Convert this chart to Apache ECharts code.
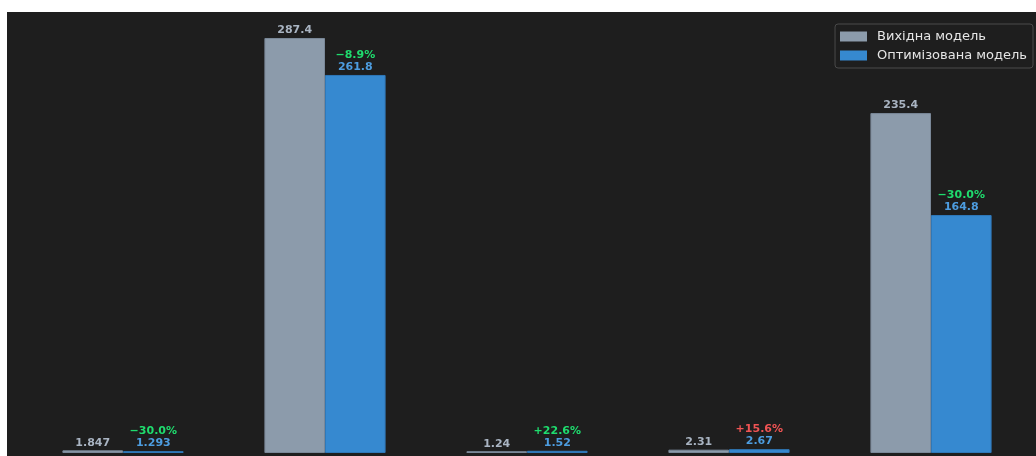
<!DOCTYPE html>
<html>
<head>
<meta charset="utf-8">
<style>
html,body{margin:0;padding:0;background:#ffffff;}
#c{position:absolute;left:7px;top:12px;width:1029px;height:444px;}
</style>
<script src="https://cdn.jsdelivr.net/npm/echarts@6/dist/echarts.min.js"></script>
</head>
<body>
<div id="c"></div>
<script>
var categories = ['A', 'B', 'C', 'D', 'E'];
var seriesNames = ['Вихідна модель', 'Оптимізована модель'];
var baseline = [1.847, 287.4, 1.24, 2.31, 235.4];
var optimized = [1.293, 261.8, 1.52, 2.67, 164.8];
var valueLabels0 = ['1.847', '287.4', '1.24', '2.31', '235.4'];
var valueLabels1 = ['1.293', '261.8', '1.52', '2.67', '164.8'];
var improved = [true, true, true, false, true];

function pct(i) {
  var p = (optimized[i] - baseline[i]) / baseline[i] * 100;
  var s = Math.abs(p).toFixed(1) + '%';
  return (p < 0 ? '\u2212' : '+') + s;
}

var FONT = 'DejaVu Sans';
var chart = echarts.init(document.getElementById('c'), null, {renderer: 'canvas'});
chart.setOption({
  backgroundColor: '#1e1e1e',
  animation: false,
  grid: {left: 15, right: 4, top: 0, bottom: 3},
  legend: {
    orient: 'vertical',
    right: 3,
    top: 12,
    padding: [6, 6, 6, 5],
    itemWidth: 27,
    itemHeight: 10,
    itemGap: 6,
    icon: 'rect',
    borderColor: '#4a4a4a',
    borderWidth: 1,
    borderRadius: 3,
    backgroundColor: '#1e1e1e',
    itemStyle: {borderWidth: 0},
    textStyle: {color: '#e6e6e6', fontSize: 13, fontFamily: FONT, padding: [0, 0, 0, 5]},
    data: seriesNames
  },
  xAxis: {
    type: 'category',
    data: categories,
    show: false
  },
  yAxis: {
    type: 'value',
    min: 0,
    max: 305.4,
    show: false,
    splitLine: {show: false}
  },
  series: [
    {
      name: seriesNames[0],
      type: 'bar',
      data: baseline,
      barGap: '0%',
      barCategoryGap: '40%',
      itemStyle: {color: '#8c9bab', borderColor: '#7a8898', borderWidth: 1},
      label: {
        show: true,
        position: 'top',
        distance: 2,
        fontFamily: FONT,
        fontWeight: 'bold',
        fontSize: 11,
        color: '#a9b4c2',
        formatter: function (p) { return valueLabels0[p.dataIndex]; }
      }
    },
    {
      name: seriesNames[1],
      type: 'bar',
      data: optimized,
      itemStyle: {color: '#3689d0', borderColor: '#2f78b8', borderWidth: 1},
      label: {
        show: true,
        position: 'top',
        distance: 2,
        fontFamily: FONT,
        fontWeight: 'bold',
        fontSize: 11,
        lineHeight: 12,
        formatter: function (p) {
          var i = p.dataIndex;
          return '{' + (improved[i] ? 'g' : 'r') + '|' + pct(i) + '}\n{v|' + valueLabels1[i] + '}';
        },
        rich: {
          g: {color: '#1fdc6e', fontFamily: FONT, fontWeight: 'bold', fontSize: 11, lineHeight: 12},
          r: {color: '#f05454', fontFamily: FONT, fontWeight: 'bold', fontSize: 11, lineHeight: 12},
          v: {color: '#4d9de0', fontFamily: FONT, fontWeight: 'bold', fontSize: 11, lineHeight: 12}
        }
      }
    }
  ]
});
</script>
</body>
</html>
